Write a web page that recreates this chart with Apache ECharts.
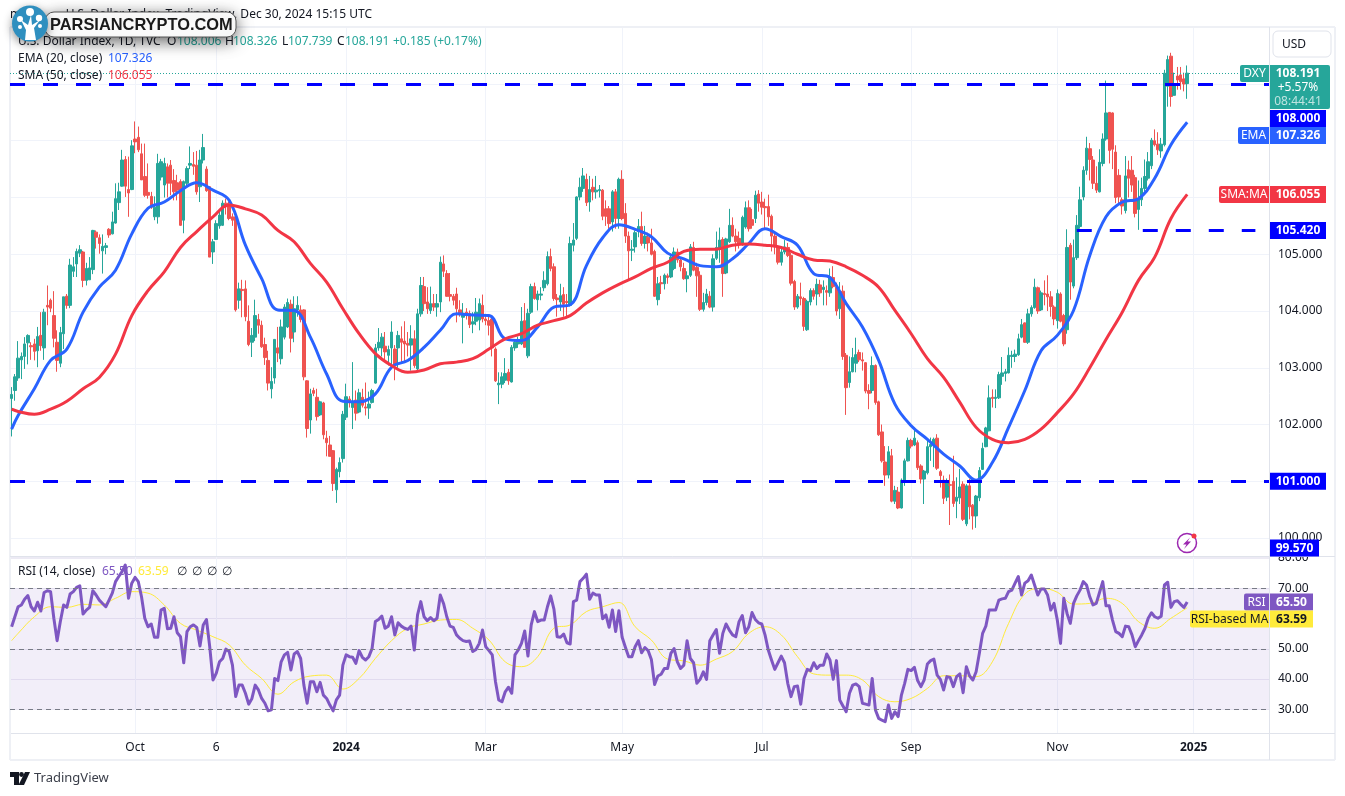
<!DOCTYPE html>
<html><head><meta charset="utf-8">
<style>html,body{margin:0;padding:0;background:#fff}#c{width:1345px;height:796px}</style>
<script src="https://cdn.jsdelivr.net/npm/echarts@6/dist/echarts.min.js"></script>
</head><body><div id="c"></div>
<script>
// rows are [open, close, low, high]
const ohlcAug2023=[[102.46,102.53,101.79,102.66],[102.60,102.84,102.42,102.89],[102.82,103.17,102.77,103.47],[103.14,103.20,102.80,103.27],[103.20,103.42,102.98,103.54],[103.44,103.57,103.06,103.59],[103.39,103.37,103.14,103.45],[103.42,103.29,103.13,103.51],[103.30,103.55,103.01,103.72],[103.57,103.39,103.30,103.98],[103.35,103.98,103.14,104.04],[104.10,104.07,103.75,104.45],[104.19,104.05,103.98,104.22],[103.92,103.52,103.36,104.35],[103.45,103.13,102.93,103.66],[103.08,103.62,103.01,103.72],[103.60,104.25,103.33,104.25],[104.26,104.10,104.04,104.30],[104.10,104.81,104.05,104.92],[104.70,104.78,104.60,104.95],[104.83,105.05,104.60,105.10],[105.02,105.08,104.95,105.16],[105.04,104.54,104.42,105.06],[104.54,104.75,104.45,104.85],[104.55,104.76,104.55,104.95],[104.73,105.42,104.65,105.43],[105.39,105.30,105.10,105.42],[105.29,105.19,105.01,105.35],[105.06,105.14,104.66,105.35],[105.12,105.15,105.00,105.20],[105.44,105.34,105.29,105.46],[105.36,105.57,105.35,105.75],[105.55,105.98,105.54,106.25],[105.91,106.10,105.78,106.26],[106.20,106.66,106.19,106.84],[106.67,106.20,106.01,106.73],[106.14,106.08,105.66,106.72],[106.14,106.91,106.13,107.01]];
const ohlcOct2023=[[107.03,106.98,106.78,107.34],[107.06,106.84,106.80,107.25],[106.77,106.31,106.31,106.95],[106.37,106.04,106.01,106.95],[106.09,106.04,105.98,106.60],[106.02,105.83,105.80,106.10],[105.66,105.83,105.60,106.02],[105.66,106.60,105.54,106.77],[106.36,106.63,106.30,106.68],[106.22,106.60,106.00,106.70],[106.54,106.25,106.00,106.60],[106.57,106.25,106.04,106.66],[106.30,106.10,105.95,106.50],[106.26,106.13,105.95,106.40],[106.28,105.51,105.50,106.32],[105.60,106.28,105.37,106.30],[106.25,106.51,106.20,106.55],[106.57,106.60,106.50,106.90],[106.58,106.55,106.40,106.80],[106.57,106.10,106.05,106.82],[106.19,106.66,105.92,106.84],[106.66,106.88,106.60,107.12],[106.50,106.12,106.10,106.55],[106.19,104.95,104.95,106.20],[105.04,105.22,104.83,105.27],[105.26,105.54,105.25,105.60],[105.50,105.69,105.45,105.75],[105.51,105.90,105.50,105.95],[105.90,105.84,105.70,105.98],[105.87,105.63,105.60,105.93],[105.66,105.60,105.50,105.72],[105.66,104.02,103.99,105.70],[104.19,104.39,104.04,104.50],[104.38,104.36,103.89,104.55],[104.39,103.90,103.82,104.54],[103.82,103.41,103.38,104.10],[103.45,103.57,103.19,103.70],[103.54,103.92,103.47,104.20],[103.85,103.75,103.60,103.95],[103.75,103.37,103.35,103.83],[103.41,103.18,103.05,103.53],[103.13,102.73,102.60,103.30],[102.63,102.76,102.46,103.01],[102.82,103.50,102.72,103.50],[103.35,103.26,103.10,103.72],[103.16,103.72,103.06,103.85],[103.54,104.07,103.50,104.12],[103.72,104.15,103.70,104.22],[104.12,103.52,103.27,104.20],[103.63,104.04,103.45,104.26],[104.02,104.10,103.90,104.26],[104.02,103.85,103.80,104.10],[104.02,102.84,102.78,104.03],[102.77,101.93,101.77,102.78],[102.08,102.54,101.84,102.63],[102.60,102.55,102.50,102.65],[102.48,102.14,102.07,102.63],[102.17,102.40,102.15,102.42],[102.38,101.82,101.74,102.40],[101.76,101.68,101.44,101.89],[101.64,101.44,101.44,101.80],[101.54,100.96,100.83,101.55],[100.85,101.21,100.62,101.24],[101.17,101.33,101.07,101.42]];
const ohlcJan2024=[[101.40,102.18,101.33,102.24],[102.13,102.49,102.08,102.72],[102.45,102.39,102.30,102.50],[102.30,102.40,101.92,103.10],[102.43,102.20,102.07,102.60],[102.22,102.56,102.20,102.63],[102.48,102.34,102.30,102.63],[102.31,102.29,102.16,102.74],[102.29,102.36,102.10,102.58],[102.39,102.60,102.37,102.63],[102.73,103.35,102.72,103.42],[103.35,103.45,103.30,103.70],[103.35,103.54,103.20,103.61],[103.38,103.28,103.10,103.63],[103.22,103.32,103.04,103.39],[103.35,103.63,103.00,103.82],[103.33,103.05,102.78,103.40],[103.35,103.57,103.00,103.65],[103.51,103.45,103.10,103.73],[103.47,103.42,103.10,103.82],[103.43,103.40,103.20,103.63],[103.40,103.51,102.95,103.75],[103.51,103.04,103.00,103.66],[102.98,103.95,102.95,104.04],[103.95,104.45,103.90,104.60],[104.43,104.13,104.00,104.60],[104.16,104.04,103.95,104.42],[104.01,104.13,103.95,104.43],[104.13,104.07,104.00,104.30],[104.07,104.13,103.90,104.30],[104.16,104.86,103.98,104.96],[104.83,104.70,104.60,104.98],[104.66,104.26,104.25,104.72],[104.29,104.26,104.17,104.67],[104.26,104.19,104.10,104.30],[104.30,104.04,103.80,104.41],[104.02,103.94,103.90,104.19],[103.89,103.96,103.43,104.14],[103.98,103.95,103.85,104.05],[103.96,103.76,103.70,104.01],[103.77,103.81,103.61,103.98],[103.82,103.98,103.75,104.23],[103.84,104.13,103.66,104.22],[104.10,103.86,103.80,104.29],[103.86,103.83,103.75,103.95],[103.83,103.75,103.57,103.90],[103.86,103.35,103.20,103.90],[103.33,102.77,102.75,103.36],[102.70,102.73,102.36,102.92],[102.71,102.84,102.64,102.92],[102.78,102.90,102.73,103.17],[102.92,102.77,102.70,102.98],[102.75,103.36,102.74,103.40],[103.35,103.45,103.30,103.50],[103.42,103.50,103.35,103.55],[103.42,103.82,103.40,104.07],[103.83,103.36,103.35,104.14],[103.21,103.96,103.17,104.04],[103.98,104.43,103.95,104.48],[104.43,104.22,104.20,104.50],[104.20,104.30,104.01,104.36],[104.28,104.30,104.19,104.42],[104.41,104.54,104.35,104.70],[104.48,104.96,104.45,105.05],[104.96,104.75,104.70,105.10],[104.78,104.22,104.18,104.84],[104.23,104.20,103.90,104.30],[104.16,104.27,104.00,104.48],[104.29,104.12,103.90,104.42],[104.17,104.15,103.90,104.30],[104.10,105.19,104.08,105.31],[105.16,105.25,105.05,105.55],[105.28,106.01,105.25,106.02],[106.01,106.18,105.95,106.35],[106.16,106.38,106.10,106.52],[106.32,105.91,105.85,106.42],[105.92,106.14,105.75,106.38],[106.18,106.10,105.95,106.33],[106.10,106.13,105.98,106.38],[106.12,106.14,106.00,106.22]];
const ohlcMay2024=[[106.13,105.67,105.60,106.15],[105.80,105.67,105.50,105.95],[105.80,105.54,105.45,105.85],[105.57,106.10,105.40,106.13],[106.10,105.63,105.45,106.15],[105.63,106.32,105.45,106.35],[106.32,105.63,105.60,106.48],[105.72,105.32,105.20,105.90],[105.32,105.06,104.55,105.40],[105.07,105.09,104.88,105.25],[105.13,105.38,105.03,105.42],[105.40,105.49,105.30,105.62],[105.49,105.19,105.15,105.75],[105.19,105.32,105.10,105.50],[105.30,105.20,105.05,105.38],[105.20,105.00,104.98,105.45],[105.05,104.26,104.25,105.08],[104.20,104.48,104.10,104.60],[104.50,104.48,104.30,104.62],[104.48,104.63,104.38,104.66],[104.62,104.59,104.48,104.66],[104.60,104.95,104.58,105.00],[104.75,105.04,104.72,105.12],[105.04,104.90,104.85,105.10],[104.90,104.78,104.70,104.95],[104.75,104.57,104.55,104.85],[104.57,104.62,104.33,104.70],[104.63,105.13,104.60,105.18],[105.12,104.72,104.70,105.22],[104.77,104.62,104.25,104.85],[104.63,104.03,104.00,104.70],[104.03,104.15,103.99,104.32],[104.15,104.30,104.10,104.39],[104.26,104.07,104.05,104.35],[104.07,104.92,103.99,105.00],[104.93,105.12,104.90,105.40],[105.10,105.25,104.85,105.47],[105.26,104.66,104.25,105.30],[104.67,105.27,104.65,105.29],[105.22,105.51,105.20,105.80],[105.51,105.32,105.30,105.65],[105.32,105.22,105.05,105.45],[105.28,105.18,105.10,105.40],[105.19,105.65,105.15,105.68],[105.48,105.82,105.45,105.93],[105.82,105.45,105.40,105.95],[105.61,105.51,105.45,105.80],[105.63,106.04,105.55,106.12],[106.06,105.90,105.75,106.13],[105.92,105.83,105.70,106.10],[105.84,105.82,105.45,105.98],[105.84,105.66,105.50,106.05],[105.67,105.32,105.05,105.70],[105.32,105.13,105.00,105.37],[105.13,104.86,104.82,105.15],[104.86,105.04,104.80,105.12],[105.04,105.13,105.00,105.25],[105.12,104.98,104.95,105.20],[104.98,104.49,104.45,105.03],[104.52,104.07,104.02,104.55],[104.07,104.26,104.04,104.30],[104.25,104.22,104.10,104.50],[104.22,103.73,103.65,104.25],[103.67,104.17,103.65,104.20],[104.16,104.36,104.10,104.40],[104.36,104.26,104.20,104.40],[104.30,104.47,104.10,104.57]];
const ohlcAug2024=[[104.46,104.32,104.25,104.55],[104.38,104.42,104.10,104.54],[104.36,104.33,104.10,104.45],[104.32,104.60,104.25,104.75],[104.59,104.43,104.40,104.79],[104.42,104.00,103.92,104.50],[104.04,104.35,103.86,104.51],[104.35,103.20,103.14,104.45],[103.22,102.65,102.17,103.26],[102.74,102.93,102.65,103.20],[102.93,103.18,102.92,103.35],[103.08,103.23,102.92,103.53],[103.27,103.14,103.10,103.32],[103.14,103.12,102.95,103.27],[103.09,102.59,102.55,103.10],[102.60,102.55,102.27,102.71],[102.60,103.04,102.55,103.20],[103.04,102.39,102.35,103.06],[102.40,101.82,101.80,102.42],[101.87,101.36,101.33,102.00],[101.34,101.11,100.92,101.62],[101.11,101.52,101.05,101.62],[101.45,100.65,100.63,101.57],[100.65,100.84,100.60,100.92],[100.81,100.53,100.51,100.90],[100.53,101.02,100.52,101.05],[100.98,101.36,100.92,101.40],[101.36,101.72,101.35,101.77],[101.72,101.62,101.58,101.75],[101.64,101.76,101.62,101.95],[101.68,101.24,101.20,101.72],[101.27,101.04,100.96,101.30],[101.04,101.18,100.60,101.20],[101.15,101.61,101.12,101.71],[101.61,101.65,101.36,101.77],[101.65,101.74,101.25,101.77],[101.76,101.23,101.20,101.83],[101.17,101.10,100.89,101.20],[101.02,100.70,100.60,101.10],[100.72,101.00,100.65,101.05],[100.94,100.93,100.23,101.12],[101.00,100.61,100.55,101.45],[100.65,100.72,100.35,101.07],[100.71,100.90,100.60,101.22],[100.95,100.33,100.30,101.00],[100.25,100.92,100.21,100.95],[100.92,100.55,100.33,101.04],[100.58,100.39,100.15,100.60],[100.39,100.74,100.18,100.76],[100.71,101.19,100.65,101.25],[101.21,101.58,101.20,101.68],[101.61,101.94,101.60,101.96],[101.89,102.47,101.88,102.69],[102.48,102.46,102.30,102.62],[102.46,102.48,102.29,102.62],[102.47,102.88,102.45,102.93],[102.85,102.91,102.70,103.19],[102.90,102.93,102.76,102.98],[102.91,103.22,102.90,103.36],[103.20,103.22,103.00,103.30],[103.20,103.24,103.10,103.32]];
const ohlcOct2024=[[103.23,103.51,103.21,103.60],[103.54,103.76,103.52,103.86],[103.79,103.45,103.44,103.80],[103.45,103.95,103.42,104.04],[103.95,104.06,103.90,104.10],[104.06,104.42,104.04,104.57],[104.41,104.00,103.95,104.43],[104.02,104.32,104.00,104.36],[104.31,104.29,104.10,104.54],[104.30,104.25,104.00,104.63],[104.25,104.08,103.90,104.35],[104.07,103.86,103.75,104.10],[103.83,104.31,103.69,104.38],[104.30,103.82,103.80,104.33],[103.92,103.42,103.38,103.95],[103.67,105.12,103.60,105.44],[105.16,104.51,104.20,105.20],[104.44,104.94,104.40,105.26],[104.94,105.51,104.90,105.69],[105.49,105.96,105.45,106.19],[106.01,106.48,105.95,106.55],[106.48,106.87,106.40,107.07],[106.86,106.67,106.30,106.96],[106.66,106.25,106.15,106.73],[106.25,106.13,106.08,106.55],[106.10,106.62,106.09,106.85],[106.60,107.03,106.55,107.13],[107.03,107.49,107.00,108.06],[107.50,106.83,106.60,107.50],[107.49,106.85,106.50,107.50],[106.80,106.00,105.90,106.92],[106.39,106.01,105.88,106.50],[105.96,105.85,105.70,106.00],[105.77,106.38,105.72,106.73],[106.49,106.34,106.00,106.65],[106.48,106.22,106.10,106.73],[106.35,105.72,105.65,106.40],[105.79,105.98,105.43,106.30],[105.96,106.16,105.85,106.35],[106.16,106.37,106.10,106.67],[106.34,106.63,106.30,106.80],[106.56,107.01,106.50,107.05],[107.00,106.93,106.90,107.20],[106.94,106.84,106.75,107.15],[106.82,106.94,106.70,107.05],[106.93,108.19,106.90,108.25],[107.96,108.43,107.60,108.50],[108.49,107.78,107.60,108.55],[107.80,108.00,107.80,108.20],[108.14,108.07,107.90,108.30],[108.16,108.04,107.90,108.30],[108.09,108.00,107.87,108.20],[108.006,108.191,107.739,108.326]];

// first session, then sampled every fifth session from the third
const ema20=[101.92,102.16,102.63,103.13,103.33,103.98,104.42,104.72,105.36,105.81,105.92,106.12,106.26,106.13,105.95,105.16,104.57,104.02,104.01,103.54,102.89,102.41,102.40,102.54,103.01,103.13,103.36,103.66,103.95,103.93,103.92,103.51,103.48,103.72,104.07,104.11,104.80,105.29,105.52,105.44,105.31,105.02,104.92,104.80,104.78,104.92,105.19,105.45,105.31,105.16,104.66,104.59,104.13,103.72,103.13,102.36,101.98,101.74,101.48,101.27,101.02,101.33,101.95,102.60,103.30,103.57,104.01,104.98,105.66,105.92,105.98,106.34,106.93,107.326];
const sma50=[102.27,102.23,102.18,102.27,102.41,102.63,102.83,103.24,103.92,104.36,104.69,105.12,105.40,105.66,105.87,105.80,105.69,105.42,105.22,104.84,104.51,104.04,103.60,103.25,103.04,102.92,102.96,103.07,103.10,103.16,103.33,103.51,103.60,103.75,103.83,103.92,104.14,104.32,104.47,104.60,104.75,104.86,105.05,105.09,105.09,105.16,105.18,105.16,105.12,105.00,104.90,104.88,104.78,104.63,104.42,104.01,103.60,103.16,102.83,102.39,101.95,101.74,101.68,101.74,101.92,102.21,102.54,103.00,103.50,103.98,104.54,104.95,105.63,106.055];
const rsi14=[57.3,60.6,63.9,64.5,66.4,67.6,63.9,62.5,65.4,62.5,68.6,69.2,68.9,60.1,52.7,59.0,64.5,63.7,68.1,68.9,70.3,70.8,61.5,62.8,63.7,69.2,67.8,66.1,65.0,63.9,66.1,68.4,72.2,73.9,75.5,77.7,66.7,71.7,73.6,72.2,67.2,60.1,57.3,58.2,53.8,53.8,62.8,63.4,56.6,56.8,60.6,55.3,54.0,45.4,55.7,57.3,57.9,57.1,50.9,57.9,59.7,50.7,39.7,41.9,45.7,46.8,49.9,49.1,44.6,34.2,38.0,38.0,35.3,31.7,33.6,38.0,36.4,33.6,32.0,29.5,29.8,40.2,39.5,45.7,48.0,48.8,43.0,48.3,49.1,46.8,38.0,32.0,39.1,39.1,35.8,38.9,34.7,33.6,31.4,29.5,33.1,34.7,44.6,48.0,47.4,47.2,45.2,49.4,47.2,46.3,47.4,50.1,59.0,59.7,60.8,56.8,57.5,60.6,54.6,58.6,57.5,56.8,56.4,57.5,49.6,61.2,65.6,60.6,59.3,60.3,59.3,60.1,67.8,65.0,60.6,57.5,57.1,54.6,53.5,52.7,52.4,52.6,49.1,49.8,51.8,56.2,50.7,49.4,48.0,39.1,33.1,32.5,35.8,37.3,35.3,48.0,49.6,51.8,55.9,47.6,57.9,62.3,59.0,59.5,59.5,63.9,67.5,63.1,54.0,53.8,54.9,52.0,51.6,65.6,66.1,72.2,73.3,74.7,66.4,68.4,67.8,67.8,59.9,61.2,57.1,62.8,55.7,62.6,53.8,50.5,47.4,47.4,50.7,52.7,48.7,50.4,49.4,46.5,38.2,41.0,41.6,43.5,43.5,48.5,50.1,45.7,43.5,44.6,52.7,46.8,45.4,38.6,39.9,42.4,39.9,52.7,54.6,56.4,48.5,55.1,58.2,56.2,54.6,54.0,59.0,61.0,55.3,57.3,62.0,59.7,58.6,58.2,54.6,49.6,46.3,43.2,45.4,47.6,45.4,38.6,34.2,37.5,37.7,31.7,40.2,43.2,42.8,45.4,43.5,44.6,44.6,48.3,46.3,39.9,46.1,33.1,31.1,29.2,35.3,38.0,38.4,37.5,32.0,31.7,31.4,40.2,29.8,27.0,26.4,25.9,31.4,27.0,29.2,27.6,34.7,38.6,43.2,42.8,43.9,39.5,37.5,39.7,45.0,46.1,46.6,41.3,39.9,36.4,40.8,40.5,37.5,40.8,41.7,35.5,44.1,41.0,39.7,42.4,48.5,55.1,57.5,62.8,62.8,62.8,66.1,66.5,66.7,68.9,69.4,71.7,73.9,67.8,71.7,72.5,74.4,71.1,67.8,69.8,69.8,67.8,62.8,65.0,59.5,51.8,66.7,61.7,58.4,65.0,67.5,69.4,72.2,71.1,67.2,64.5,65.0,68.6,72.2,64.2,64.2,59.5,55.7,55.1,54.0,57.5,57.3,54.6,50.7,52.7,54.6,56.8,60.1,61.9,60.6,60.1,60.8,71.1,72.0,63.7,65.6,65.9,64.7,63.7,65.5];
// first session, then sampled every fifth session from the third
const rsiMa=[52.7,55.1,60.6,63.9,63.7,64.7,64.5,66.7,68.9,68.4,64.5,58.4,56.2,54.0,51.3,44.6,40.2,35.0,39.1,41.0,41.3,36.7,40.2,46.8,52.7,56.8,58.2,59.5,59.7,56.8,52.9,45.7,44.1,47.4,56.8,57.9,62.3,63.9,65.3,57.3,52.9,46.6,46.0,44.6,46.6,49.1,55.1,57.3,54.6,47.4,41.7,41.3,41.3,39.7,34.2,32.5,33.6,36.9,41.1,41.1,40.8,45.7,58.4,68.1,70.0,68.7,64.8,65.0,66.7,65.0,59.0,56.8,60.1,63.59];

const tickIndex=[38,63,103,146,188,231,277,322,364];
const tickLabels=['Oct','6','2024','Mar','May','Jul','Sep','Nov','2025'];
const boldTicks=['2024','2025'];
const levelsFull=[108,101];
const levelPartial=105.42;
const rsiGuides=[70,50,30];

const TEAL='#26a69a',RED='#ef5350',BLUE='#0000ff',FONT='"Noto Sans",sans-serif',INK='#131722';
const ohlc=[].concat(ohlcAug2023,ohlcOct2023,ohlcJan2024,ohlcMay2024,ohlcAug2024,ohlcOct2024);
const N=388;
const cats=Array.from({length:N},(_,i)=>String(i));
const sampled=a=>{const o=new Array(N).fill(null);o[0]=a[0];a.slice(1).forEach((v,k)=>{o[2+k*5]=v});return o};
const isTick=i=>tickIndex.includes(i);
const xAxisBase=(grid,showLabel)=>({type:'category',gridIndex:grid,data:cats,
  axisLine:{show:grid===1,lineStyle:{color:'#e0e3eb',width:1}},axisTick:{show:false,alignWithLabel:true},
  axisLabel:{show:showLabel,interval:i=>isTick(i),margin:9,
    formatter:(v,i)=>{const t=tickLabels[tickIndex.indexOf(+v)]||'';return boldTicks.includes(t)?'{b|'+t+'}':t},
    color:INK,fontSize:12,fontFamily:FONT,rich:{b:{fontWeight:'bold',fontSize:12,color:INK,fontFamily:FONT}}},
  splitLine:{show:true,alignWithLabel:true,interval:i=>isTick(i),lineStyle:{color:'#f0f3fa',width:1}}});
const chart=echarts.init(document.getElementById('c'),null,{renderer:'canvas'});
chart.setOption({animation:false,backgroundColor:'#fff',
 grid:[{left:10,right:75,top:27,height:529},{left:10,right:75,top:557,height:176}],
 xAxis:[xAxisBase(0,false),xAxisBase(1,true)],
 yAxis:[
  {type:'value',gridIndex:0,position:'right',min:99.684,max:109.004,splitNumber:9,scale:true,
   axisLine:{show:false},axisTick:{show:false},
   axisLabel:{color:INK,fontSize:12,fontFamily:FONT,margin:8,showMinLabel:false,showMaxLabel:false,formatter:v=>v>108.5?'':v.toFixed(3)},
   splitLine:{lineStyle:{color:'#f0f3fa',width:1}}},
  {type:'value',gridIndex:1,position:'right',min:22.17,max:80.35,splitNumber:6,
   axisLine:{show:false},axisTick:{show:false},
   axisLabel:{color:INK,fontSize:12,fontFamily:FONT,margin:8,showMinLabel:false,showMaxLabel:false,formatter:v=>v.toFixed(2)},
   splitLine:{lineStyle:{color:'#eceaf4',width:1}}}],
 series:[
  {type:'line',name:'levels',xAxisIndex:0,yAxisIndex:0,data:[],z:1,silent:true,
   markLine:{silent:true,symbol:'none',label:{show:false},animation:false,
    lineStyle:{color:BLUE,type:[15,18],width:3},
    data:levelsFull.map(v=>({yAxis:v})).concat([[{xAxis:328,yAxis:levelPartial},{xAxis:383,yAxis:levelPartial}]])}},
  {type:'line',name:'last',xAxisIndex:0,yAxisIndex:0,data:[],z:1,silent:true,
   markLine:{silent:true,symbol:'none',label:{show:false},animation:false,
    lineStyle:{color:TEAL,type:[1,2],width:1},data:[{yAxis:ohlc[ohlc.length-1][1]}]}},
  {type:'candlestick',name:'DXY',xAxisIndex:0,yAxisIndex:0,data:ohlc,z:3,barWidth:3,
   itemStyle:{color:TEAL,color0:RED,borderColor:TEAL,borderColor0:RED,borderWidth:1}},
  {type:'line',name:'EMA',xAxisIndex:0,yAxisIndex:0,data:sampled(ema20),connectNulls:true,showSymbol:false,z:4,smooth:0.4,
   lineStyle:{color:'#2962ff',width:3},itemStyle:{color:'#2962ff'}},
  {type:'line',name:'SMA',xAxisIndex:0,yAxisIndex:0,data:sampled(sma50),connectNulls:true,showSymbol:false,z:4,smooth:0.4,
   lineStyle:{color:'#f23645',width:3},itemStyle:{color:'#f23645'}},
  {type:'line',name:'RSI',xAxisIndex:1,yAxisIndex:1,data:rsi14,showSymbol:false,z:4,
   lineStyle:{color:'#7e57c2',width:3,join:'round'},itemStyle:{color:'#7e57c2'},
   markArea:{silent:true,itemStyle:{color:'rgba(126,87,194,0.1)'},data:[[{yAxis:70},{yAxis:30}]]},
   markLine:{silent:true,symbol:'none',label:{show:false},animation:false,
    lineStyle:{color:'#787b86',type:[5,4],width:1},data:rsiGuides.map(v=>({yAxis:v}))}},
  {type:'line',name:'RSI MA',xAxisIndex:1,yAxisIndex:1,data:sampled(rsiMa),connectNulls:true,showSymbol:false,z:3,smooth:0.4,
   lineStyle:{color:'#ffeb3b',width:1},itemStyle:{color:'#ffeb3b'}}
 ]});

// overlays placed from the values through the chart's own scale
const yP=v=>chart.convertToPixel({yAxisIndex:0},v), yR=v=>chart.convertToPixel({yAxisIndex:1},v);
const g=[];
const rect=(x,y,w,h,fill,z,extra)=>g.push({type:'rect',z:z||100,silent:true,shape:{x,y,width:w,height:h,r:(extra&&extra.r)||0},style:Object.assign({fill},extra&&extra.style||{})});
const txt=(x,y,t,fill,o)=>{o=o||{};g.push({type:'text',z:o.z||101,silent:true,x,y:y+1,style:{text:t,fill,font:(o.weight||'normal')+' '+(o.size||12)+'px '+(o.family||FONT),textAlign:o.align||'left',textVerticalAlign:'middle',opacity:o.op==null?1:o.op}})};
const tag=(cy,val,bg,fg,label,lx,right)=>{const r=right||1326;
  rect(1270,cy-8.5,r-1270,17,bg,100);
  txt((1270+r)/2+(r===1326?0:0),cy-0.5,val,fg,{align:'center',weight:'bold'});
  if(label){rect(lx,cy-8.5,1269-lx,17,bg,100,{r:[2,0,0,2]});txt((lx+1269)/2,cy-0.5,label,fg,{align:'center'});}};
// frame
const line=(x1,y1,x2,y2,c,w,z)=>g.push({type:'line',z:z||2,silent:true,shape:{x1,y1,x2,y2},style:{stroke:c,lineWidth:w||1}});
line(10,27,1335,27,'#eef0f5',2);line(10,27,10,760,'#eef0f5',2);line(1335,27,1335,760,'#eef0f5',2);line(10,760,1335,760,'#eef0f5',2);
line(1269.5,27,1269.5,760,'#e0e3eb',1,50);line(10,556.5,1335,556.5,'#e0e3eb',1,50);line(1270,733.5,1335,733.5,'#e0e3eb',1,50);
// header
txt(10,14,'m',INK);
txt(372,14,'U.S. Dollar Index, TradingView, Dec 30, 2024 15:15 UTC',INK,{align:'right'});
txt(18,41,'U.S. Dollar Index, 1D, TVC',INK,{z:60});
[['O',167],['H',225],['L',282],['C',337]].forEach(a=>txt(a[1],41,a[0],INK,{z:60}));
[['108.006',177],['108.326',233],['107.739',288],['108.191',345]].forEach(a=>txt(a[1],41,a[0],TEAL,{z:60}));
txt(393,41,'+0.185 (+0.17%)',TEAL,{z:60});
txt(18,58,'EMA (20, close)',INK,{z:60});txt(108,58,'107.326','#2962ff',{z:60});
txt(18,75,'SMA (50, close)',INK,{z:60});txt(108,75,'106.055','#f23645',{z:60});
txt(18,571,'RSI (14, close)',INK,{z:1});txt(102,571,'65.50','#7e57c2',{z:1});txt(138,571,'63.59','#ffeb3b',{z:1});
[177,192,207,222].forEach(x=>txt(x,571,'∅',INK,{z:1}));
// USD box
rect(1273,31,58,26,'#fff',100,{r:5,style:{stroke:'#e0e3eb',lineWidth:1}});txt(1282,44,'USD',INK);
// price tags
rect(1240,65,29,17,TEAL,100,{r:[2,0,0,2]});txt(1254.5,73,'DXY','#fff',{align:'center'});
rect(1270,65,60,44,TEAL,100,{r:[0,2,2,0]});
txt(1298,73,'108.191','#fff',{align:'center',weight:'bold'});txt(1298,87,'+5.57%','#fff',{align:'center'});txt(1298,101,'08:44:41','#fff',{align:'center',op:.7});
tag(118.5,'108.000',BLUE,'#fff');
tag(135.5,'107.326','#2962ff','#fff','EMA',1238);
tag(yP(106.055),'106.055','#f23645','#fff','SMA:MA',1219);
tag(yP(105.42),'105.420',BLUE,'#fff');
tag(yP(101),'101.000',BLUE,'#fff');
tag(548,'99.570',BLUE,'#fff',null,null,1319);
tag(yR(65.5),'65.50','#7e57c2','#fff','RSI',1244,1313);
tag(yR(65.5)+17,'63.59','#ffeb3b',INK,'RSI-based MA',1190,1313);
// bolt
g.push({type:'circle',z:60,silent:true,shape:{cx:1187,cy:543,r:9.5},style:{fill:'#fff',stroke:'#9c27b0',lineWidth:1.5}});
g.push({type:'polygon',z:61,silent:true,shape:{points:[[1190,537.5],[1183,544.5],[1186.5,544.5],[1184,549],[1191,541.5],[1187.5,541.5]]},style:{fill:'#9c27b0'}});
g.push({type:'circle',z:62,silent:true,shape:{cx:1194,cy:536,r:2.5},style:{fill:'#f23645'}});
// TradingView mark
g.push({type:'polygon',z:60,silent:true,shape:{points:[[10,772],[19,772],[19,785],[14,785],[14,777],[10,777]]},style:{fill:INK}});
g.push({type:'circle',z:60,silent:true,shape:{cx:21.5,cy:774.5,r:2.4},style:{fill:INK}});
g.push({type:'polygon',z:60,silent:true,shape:{points:[[25,772],[30,772],[24,785],[18.5,785]]},style:{fill:INK}});
txt(34,777,'TradingView','#3a3e49',{size:13});
// watermark badge
g.push({type:'rect',z:200,silent:true,shape:{x:45,y:12,width:191,height:25,r:9},style:{fill:'#fff',stroke:'#555',lineWidth:1,shadowBlur:16,shadowColor:'rgba(0,0,0,0.6)',shadowOffsetY:4}});
g.push({type:'circle',z:201,silent:true,shape:{cx:30,cy:23.5,r:18},style:{fill:'#2f8fbf',shadowBlur:10,shadowColor:'rgba(0,0,0,0.45)',shadowOffsetY:3}});
[[30,12,4],[20,19,3],[39,18,3.2],[20,27,2],[40,26,2]].forEach(c=>g.push({type:'circle',z:202,silent:true,shape:{cx:c[0],cy:c[1],r:c[2]},style:{fill:'#fff'}}));
g.push({type:'polygon',z:202,silent:true,shape:{points:[[25,40],[36,40],[34,28],[40,20],[32,25],[31,15],[28,25],[21,20],[26,30]]},style:{fill:'#fff'}});
txt(50,24,'PARSIANCRYPTO.COM','#1a1a1a',{z:203,size:16.4,weight:'bold',family:'"Liberation Sans",Arial,sans-serif'});
chart.setOption({graphic:g});
</script></body></html>
